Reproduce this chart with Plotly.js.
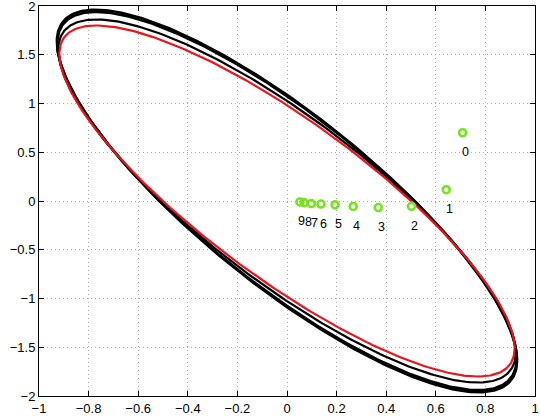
<!DOCTYPE html>
<html><head><meta charset="utf-8">
<script src="https://cdn.plot.ly/plotly-3.0.1.min.js"></script>
<style>html,body{margin:0;padding:0;background:#fff}</style>
</head><body><div id="chart" style="width:540px;height:420px"></div>
<script>
// Iteration points (green markers) and their labels
var pointLabels = ["0","1","2","3","4","5","6","7","8","9"];
var pointX = [0.708, 0.642, 0.502, 0.368, 0.267, 0.194, 0.137, 0.098, 0.069, 0.052];
var pointY = [0.700, 0.116, -0.055, -0.067, -0.056, -0.040, -0.031, -0.026, -0.017, -0.010];

// Ellipses: x = A cos t, y = B cos(t + phi), phi from cosPhi
var ellipseNames = ["black 1", "black 2", "black 3", "red"];
var ellipseA = [0.928, 0.926, 0.922, 0.918];
var ellipseB = [1.962, 1.940, 1.862, 1.800];
var ellipseCosPhi = [-0.832, -0.832, -0.834, -0.838];
var ellipseColor = ["#000000", "#000000", "#000000", "#e8141e"];
var ellipseWidth = [2.6, 2.6, 2.2, 2.2];

// Tick values
var xTicks = [-1, -0.8, -0.6, -0.4, -0.2, 0, 0.2, 0.4, 0.6, 0.8, 1];
var yTicks = [-2, -1.5, -1, -0.5, 0, 0.5, 1, 1.5, 2];

var traces = [];
for (var k = 0; k < ellipseNames.length; k++) {
  var phi = Math.acos(ellipseCosPhi[k]);
  var xs = [], ys = [];
  for (var i = 0; i <= 360; i++) {
    var t = i * Math.PI / 180;
    xs.push(ellipseA[k] * Math.cos(t));
    ys.push(ellipseB[k] * Math.cos(t + phi));
  }
  traces.push({x: xs, y: ys, mode: "lines", type: "scatter", name: ellipseNames[k],
    line: {color: ellipseColor[k], width: ellipseWidth[k]}, hoverinfo: "skip"});
}
traces.push({x: pointX, y: pointY, mode: "markers", type: "scatter", name: "points",
  marker: {symbol: "circle-open", size: 7, color: "#74e41e", line: {width: 2.6, color: "#74e41e"}}});

var labelXShift = [3, 3, 3, 3, 3, 3, 3, 3, 4, 2];
var annotations = pointLabels.map(function (lab, i) {
  return {x: pointX[i], y: pointY[i], text: lab, showarrow: false, xref: "x", yref: "y",
    yshift: -19.5, xshift: labelXShift[i],
    font: {family: "Liberation Sans, Arial, sans-serif", size: 12.5, color: "#000"}};
});

var axisCommon = {
  showgrid: true, gridcolor: "#a8a8a8", griddash: "1px,3px", gridwidth: 1,
  zeroline: false, showline: true, linecolor: "#000", linewidth: 1, mirror: "ticks",
  ticks: "inside", ticklen: 5, tickcolor: "#000", ticklabeloverflow: "allow",
  tickfont: {family: "Liberation Sans, Arial, sans-serif", size: 13, color: "#000"}
};
var layout = {
  width: 540, height: 420,
  margin: {l: 39, r: 5, t: 6, b: 24},
  showlegend: false,
  paper_bgcolor: "#fff", plot_bgcolor: "#fff",
  xaxis: Object.assign({}, axisCommon, {range: [-1, 1], tickmode: "array", tickvals: xTicks}),
  yaxis: Object.assign({}, axisCommon, {range: [-2, 2], tickmode: "array", tickvals: yTicks}),
  annotations: annotations
};
Plotly.newPlot("chart", traces, layout, {staticPlot: true});
</script></body></html>
